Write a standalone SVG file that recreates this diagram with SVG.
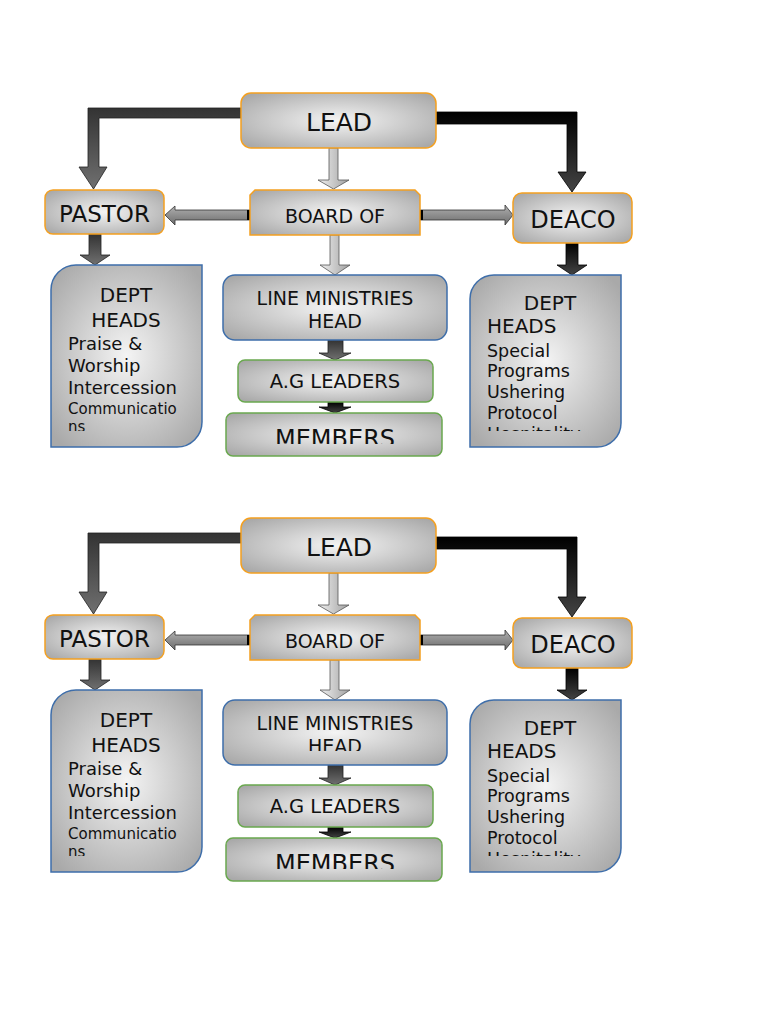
<svg xmlns="http://www.w3.org/2000/svg" width="768" height="1024" viewBox="0 0 768 1024">
<defs>
<radialGradient id="gNode" cx="50%" cy="50%" r="65%">
<stop offset="0" stop-color="#f4f4f4"/>
<stop offset="1" stop-color="#a9a9a9"/>
</radialGradient>
<linearGradient id="gDark" x1="0" y1="0" x2="0" y2="1">
<stop offset="0" stop-color="#333"/>
<stop offset="1" stop-color="#707070"/>
</linearGradient>
<linearGradient id="gBlack" x1="0" y1="0" x2="0" y2="1">
<stop offset="0" stop-color="#000"/>
<stop offset="1" stop-color="#444"/>
</linearGradient>
<linearGradient id="gLight" x1="0" y1="0" x2="1" y2="0">
<stop offset="0" stop-color="#f0f0f0"/>
<stop offset="1" stop-color="#a0a0a0"/>
</linearGradient>
<linearGradient id="gSide" x1="0" y1="0" x2="0" y2="1">
<stop offset="0" stop-color="#b0b0b0"/>
<stop offset="1" stop-color="#6c6c6c"/>
</linearGradient>
<clipPath id="clipL"><rect x="51" y="265" width="151" height="166"/></clipPath>
<clipPath id="clipR"><rect x="470" y="275" width="151" height="156"/></clipPath>
<clipPath id="clipM"><rect x="226" y="413" width="216" height="31"/></clipPath>
<clipPath id="clipH"><rect x="223" y="275" width="224" height="51"/></clipPath>
<style>
.orange{fill:url(#gNode);stroke:#f4a020;stroke-width:1.5}
.blue{fill:url(#gNode);stroke:#3e6eaa;stroke-width:1.5}
.green{fill:url(#gNode);stroke:#6aa84f;stroke-width:1.5}
text{font-family:"DejaVu Sans","Liberation Sans",sans-serif;fill:#111}
.c{text-anchor:middle}
.dark{fill:url(#gDark);stroke:#222;stroke-width:0.8}
.black{fill:url(#gBlack);stroke:#000;stroke-width:0.8}
.light{fill:url(#gLight);stroke:#555;stroke-width:0.8}
.side{fill:url(#gSide);stroke:#333;stroke-width:0.8}
</style>
</defs>

<g id="chart1">
<g id="connectors1">
<polygon class="dark" points="241,108 88,108 88,167 79,167 93.5,189 107,167 99,167 99,118 241,118"/>
<polygon class="black" points="436,112 577,112 577,172 586,172 572,192 558,172 567,172 567,124 436,124"/>
<polygon class="light" points="329,148 338,148 338,180 349,180 333.5,189 318,180 329,180"/>
<polygon class="side" points="250,210 175,210 175,206 165,215 175,225 175,220 250,220"/>
<rect x="247" y="210" width="4" height="10" fill="#000"/>
<polygon class="side" points="420,210 505,210 505,205 513,215 505,225 505,220 420,220"/>
<rect x="419" y="210" width="4" height="10" fill="#000"/>
<polygon class="dark" points="89,234 101,234 101,255 110,255 95,265 80,255 89,255"/>
<polygon class="light" points="330,235 339,235 339,265 350,265 335,275 320,265 330,265"/>
<polygon class="black" points="566,243 578,243 578,265 587,265 572,275 557,265 566,265"/>
<polygon class="dark" points="328,340 343,340 343,353 351,353 335,360 319,353 328,353"/>
<polygon class="black" points="328,402 343,402 343,407 351,407 335,413 319,407 328,407"/>
</g>
<g id="lead1"><rect class="orange" x="241" y="93" width="195" height="55" rx="10"/><text class="c" x="339" y="131" font-size="25">LEAD</text></g>
<g id="pastor1"><rect class="orange" x="45" y="190" width="119" height="44" rx="8"/><text class="c" x="104.5" y="222" font-size="23">PASTOR</text></g>
<g id="board1"><path class="orange" d="M255,190 L415,190 L420,195 L420,235 L250,235 L250,195 Z"/><text class="c" x="335" y="223" font-size="19">BOARD OF</text></g>
<g id="deacon1"><rect class="orange" x="513" y="193" width="119" height="50" rx="9"/><text class="c" x="573" y="228" font-size="24">DEACO</text></g>
<g id="deptL1"><path class="blue" d="M76,265 L202,265 L202,422 A25,25 0 0 1 177,447 L51,447 L51,290 A25,25 0 0 1 76,265 Z"/>
<g clip-path="url(#clipL)">
<text class="c" x="126" y="302" font-size="20">DEPT</text>
<text class="c" x="126" y="327" font-size="20">HEADS</text>
<text x="68" y="350" font-size="18">Praise &amp;</text>
<text x="68" y="372" font-size="18">Worship</text>
<text x="68" y="394" font-size="18">Intercession</text>
<text x="68" y="414" font-size="15">Communicatio</text>
<text x="68" y="432" font-size="15">ns</text>
</g></g>
<g id="line1"><rect class="blue" x="223" y="275" width="224" height="65" rx="12"/>
<text class="c" x="335" y="305" font-size="19">LINE MINISTRIES</text>
<text class="c" x="335" y="328" font-size="19">HEAD</text></g>
<g id="ag1"><rect class="green" x="238" y="360" width="195" height="42" rx="7"/><text class="c" x="335" y="388" font-size="19.5">A.G LEADERS</text></g>
<g id="members1"><rect class="green" x="226" y="413" width="216" height="43" rx="7"/><text class="c" x="335" y="447" font-size="24" clip-path="url(#clipM)">MEMBERS</text></g>
<g id="deptR1"><path class="blue" d="M494,275 L621,275 L621,423 A24,24 0 0 1 597,447 L470,447 L470,299 A24,24 0 0 1 494,275 Z"/>
<g clip-path="url(#clipR)">
<text class="c" x="550" y="310" font-size="20">DEPT</text>
<text x="487" y="333" font-size="20">HEADS</text>
<text x="487" y="357" font-size="17.5">Special</text>
<text x="487" y="377" font-size="17.5">Programs</text>
<text x="487" y="398" font-size="17.5">Ushering</text>
<text x="487" y="419" font-size="17.5">Protocol</text>
<text x="487" y="440" font-size="17.5">Hospitality</text>
</g></g>
</g>

<g id="chart2" transform="translate(0,425)">
<g id="connectors2">
<polygon class="dark" points="241,108 88,108 88,167 79,167 93.5,189 107,167 99,167 99,118 241,118"/>
<polygon class="black" points="436,112 577,112 577,172 586,172 572,192 558,172 567,172 567,124 436,124"/>
<polygon class="light" points="329,148 338,148 338,180 349,180 333.5,189 318,180 329,180"/>
<polygon class="side" points="250,210 175,210 175,206 165,215 175,225 175,220 250,220"/>
<rect x="247" y="210" width="4" height="10" fill="#000"/>
<polygon class="side" points="420,210 505,210 505,205 513,215 505,225 505,220 420,220"/>
<rect x="419" y="210" width="4" height="10" fill="#000"/>
<polygon class="dark" points="89,234 101,234 101,255 110,255 95,265 80,255 89,255"/>
<polygon class="light" points="330,235 339,235 339,265 350,265 335,275 320,265 330,265"/>
<polygon class="black" points="566,243 578,243 578,265 587,265 572,275 557,265 566,265"/>
<polygon class="dark" points="328,340 343,340 343,353 351,353 335,360 319,353 328,353"/>
<polygon class="black" points="328,402 343,402 343,407 351,407 335,413 319,407 328,407"/>
</g>
<g id="lead2"><rect class="orange" x="241" y="93" width="195" height="55" rx="10"/><text class="c" x="339" y="131" font-size="25">LEAD</text></g>
<g id="pastor2"><rect class="orange" x="45" y="190" width="119" height="44" rx="8"/><text class="c" x="104.5" y="222" font-size="23">PASTOR</text></g>
<g id="board2"><path class="orange" d="M255,190 L415,190 L420,195 L420,235 L250,235 L250,195 Z"/><text class="c" x="335" y="223" font-size="19">BOARD OF</text></g>
<g id="deacon2"><rect class="orange" x="513" y="193" width="119" height="50" rx="9"/><text class="c" x="573" y="228" font-size="24">DEACO</text></g>
<g id="deptL2"><path class="blue" d="M76,265 L202,265 L202,422 A25,25 0 0 1 177,447 L51,447 L51,290 A25,25 0 0 1 76,265 Z"/>
<g clip-path="url(#clipL)">
<text class="c" x="126" y="302" font-size="20">DEPT</text>
<text class="c" x="126" y="327" font-size="20">HEADS</text>
<text x="68" y="350" font-size="18">Praise &amp;</text>
<text x="68" y="372" font-size="18">Worship</text>
<text x="68" y="394" font-size="18">Intercession</text>
<text x="68" y="414" font-size="15">Communicatio</text>
<text x="68" y="432" font-size="15">ns</text>
</g></g>
<g id="line2"><rect class="blue" x="223" y="275" width="224" height="65" rx="12"/>
<text class="c" x="335" y="305" font-size="19">LINE MINISTRIES</text>
<text class="c" x="335" y="328" font-size="19" clip-path="url(#clipH)">HEAD</text></g>
<g id="ag2"><rect class="green" x="238" y="360" width="195" height="42" rx="7"/><text class="c" x="335" y="388" font-size="19.5">A.G LEADERS</text></g>
<g id="members2"><rect class="green" x="226" y="413" width="216" height="43" rx="7"/><text class="c" x="335" y="447" font-size="24" clip-path="url(#clipM)">MEMBERS</text></g>
<g id="deptR2"><path class="blue" d="M494,275 L621,275 L621,423 A24,24 0 0 1 597,447 L470,447 L470,299 A24,24 0 0 1 494,275 Z"/>
<g clip-path="url(#clipR)">
<text class="c" x="550" y="310" font-size="20">DEPT</text>
<text x="487" y="333" font-size="20">HEADS</text>
<text x="487" y="357" font-size="17.5">Special</text>
<text x="487" y="377" font-size="17.5">Programs</text>
<text x="487" y="398" font-size="17.5">Ushering</text>
<text x="487" y="419" font-size="17.5">Protocol</text>
<text x="487" y="440" font-size="17.5">Hospitality</text>
</g></g>
</g>
</svg>
